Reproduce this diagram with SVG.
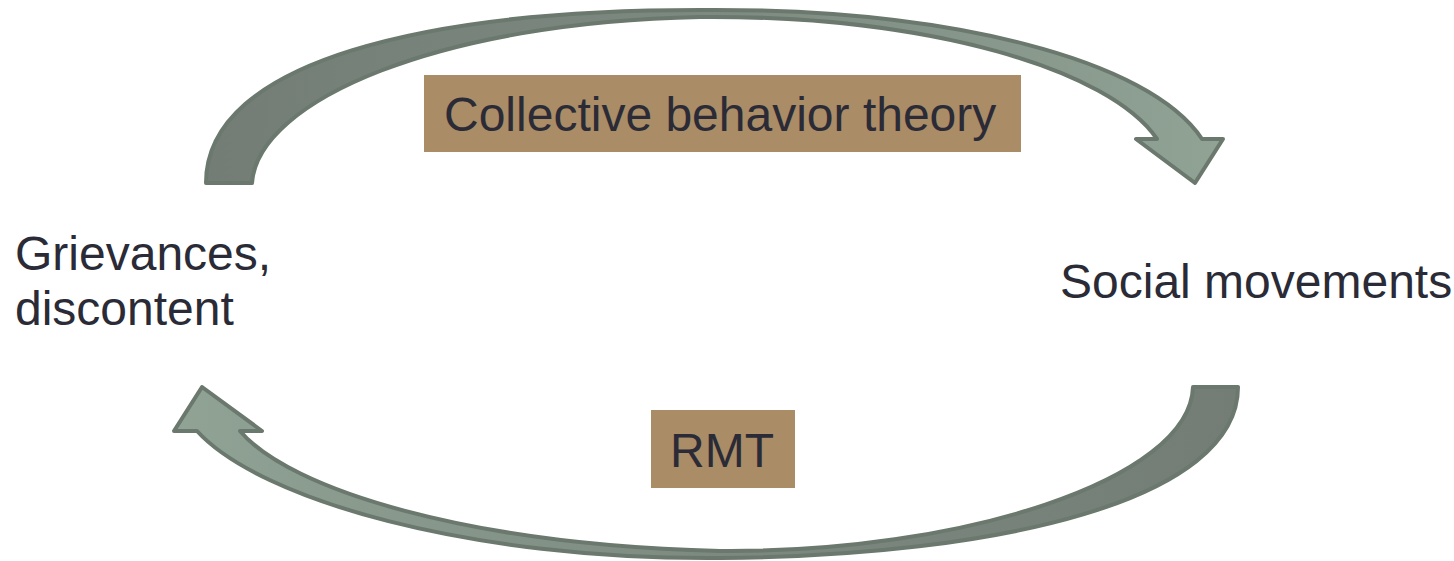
<svg xmlns="http://www.w3.org/2000/svg" width="1454" height="561" viewBox="0 0 1454 561">
<style>
.arrow{stroke:#6a786d;stroke-width:4;stroke-linejoin:round}
.lbl{font-family:"Liberation Sans",Arial,sans-serif;font-size:48px;fill:#2a2b36}
.box{fill:#aa8c66}
</style>
<defs>
<linearGradient id="gTop" x1="0" y1="0" x2="1" y2="0">
<stop offset="0" stop-color="#737d76"/>
<stop offset="0.5" stop-color="#7d8a80"/>
<stop offset="1" stop-color="#90a395"/>
</linearGradient>
<linearGradient id="gBot" x1="1" y1="0" x2="0" y2="0">
<stop offset="0" stop-color="#737d76"/>
<stop offset="0.5" stop-color="#7d8a80"/>
<stop offset="1" stop-color="#90a395"/>
</linearGradient>
</defs>
<rect width="1454" height="561" fill="#ffffff"/>
<g id="connectors">
<path id="arrow-top" class="arrow" fill="url(#gTop)" d="M206,183 C206,60 430,10 700,10 C950,8 1150,60 1202,139 L1223,139 L1195,183 L1136,139 L1157,139 C1110,70 930,15 700,17 C440,22 258,100 252,183 Z"/>
<path id="arrow-bottom" class="arrow" fill="url(#gBot)" d="M1238,387 C1238,500 1000,556 720,558 C470,560 260,500 197,431 L174,431 L202,387 L262,431 L240,431 C290,490 470,545 720,551 C960,553 1190,480 1193,387 Z"/>
</g>
<g id="label-cbt">
<rect class="box" x="424" y="75" width="597" height="77"/>
<text class="lbl" x="444" y="131">Collective behavior theory</text>
</g>
<g id="label-rmt">
<rect class="box" x="651" y="410" width="144" height="78"/>
<text class="lbl" x="670" y="467">RMT</text>
</g>
<g id="node-grievances">
<text class="lbl" x="15" y="270">Grievances,</text>
<text class="lbl" x="15" y="325">discontent</text>
</g>
<g id="node-social">
<text class="lbl" x="1060" y="298">Social movements</text>
</g>
</svg>
